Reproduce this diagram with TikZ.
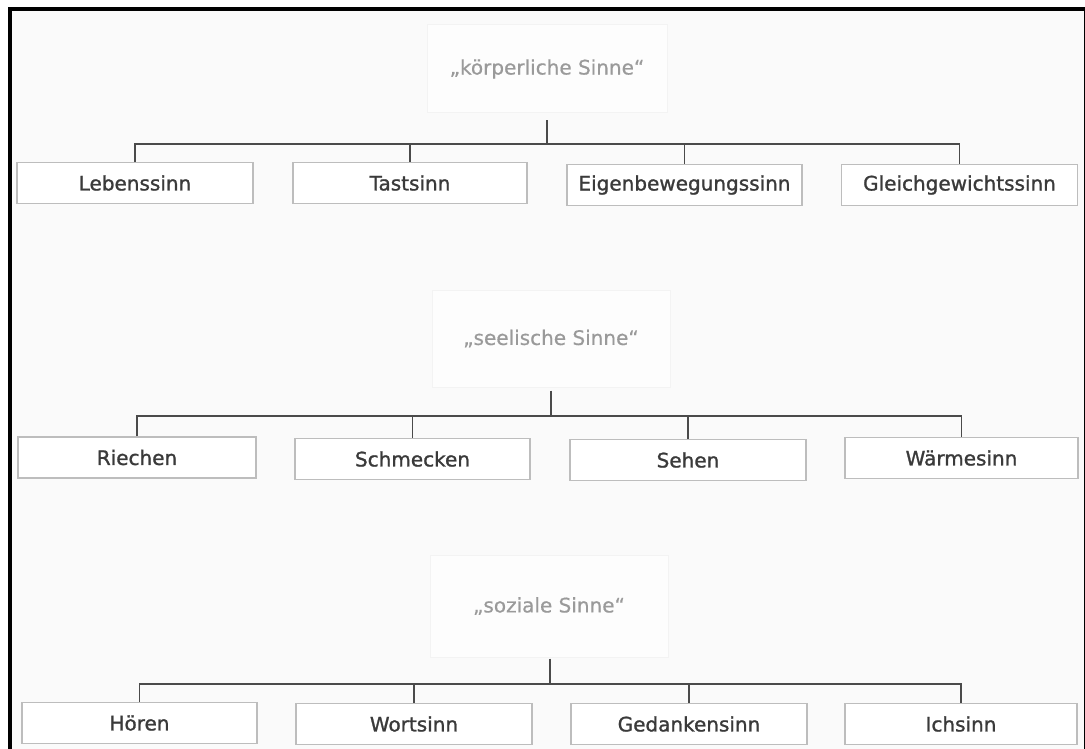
\documentclass[tikz,border=0pt]{standalone}
\usepackage{fontspec}
\setmainfont{DejaVu Sans}
\newfontfamily\boxfont[FakeBold=1.2]{DejaVu Sans}
\newfontfamily\titlefont[FakeBold=0.6]{DejaVu Sans}
\usetikzlibrary{calc}
\definecolor{bgc}{HTML}{FAFAFA}
\definecolor{boxline}{HTML}{BDBDBD}
\definecolor{boxtext}{HTML}{3A3A3A}
\definecolor{titletext}{HTML}{9A9A9A}
\definecolor{titleline}{HTML}{F3F3F3}
\definecolor{titlefill}{HTML}{FDFDFD}
\definecolor{conncol}{HTML}{4A4A4A}
\tikzset{
  sensebox/.style={draw=boxline, line width=1.5pt, fill=white, minimum height=41pt, inner sep=0pt,
    text=boxtext, font=\boxfont\fontsize{20}{23}\selectfont},
  titlebox/.style={draw=titleline, line width=1pt, fill=titlefill, inner sep=0pt,
    text=titletext, font=\titlefont\fontsize{20}{23}\selectfont},
  conn/.style={draw=conncol, line width=1.9pt},
}
\begin{document}
\begin{tikzpicture}[x=1pt,y=-1pt]
\useasboundingbox (0,0) rectangle (1085,749);
\fill[white] (0,0) rectangle (1085,749);
\fill[bgc] (10,9) rectangle (1084,749);
\draw[black, line width=4pt] (10,749) -- (10,9) -- (1085,9);
\draw[black, line width=1pt] (1084,9) -- (1084,749);

% ---- row 1
\node[titlebox, minimum width=240pt, minimum height=88pt] (t1) at (547,69) {„körperliche Sinne“};
\node[sensebox, minimum width=236pt] (a1) at (135,183) {Lebenssinn};
\node[sensebox, minimum width=234pt] (a2) at (410,183) {Tastsinn};
\node[sensebox, minimum width=235pt] (a3) at (684.5,185) {Eigenbewegungssinn};
\node[sensebox, minimum width=236pt] (a4) at (959.5,185) {Gleichgewichtssinn};
\coordinate (h1) at (547,144);
\draw[conn] ($(h1 |- t1.south)+(0,7)$) -- (h1);
\draw[conn] (a1.north) |- (h1) -| (a4.north);
\draw[conn] (a2.north) -- (a2.north |- h1);
\draw[conn] (a3.north) -- (a3.north |- h1);

% ---- row 2
\node[titlebox, minimum width=238pt, minimum height=97pt] (t2) at (551,338.5) {„seelische Sinne“};
\node[sensebox, minimum width=238pt] (b1) at (137,457.5) {Riechen};
\node[sensebox, minimum width=235pt] (b2) at (412.5,459) {Schmecken};
\node[sensebox, minimum width=236pt] (b3) at (688,460) {Sehen};
\node[sensebox, minimum width=233pt] (b4) at (961.5,458) {Wärmesinn};
\coordinate (h2) at (551,416);
\draw[conn] ($(h2 |- t2.south)+(0,3)$) -- (h2);
\draw[conn] (b1.north) |- (h2) -| (b4.north);
\draw[conn] (b2.north) -- (b2.north |- h2);
\draw[conn] (b3.north) -- (b3.north |- h2);

% ---- row 3
\node[titlebox, minimum width=238pt, minimum height=102pt] (t3) at (549,606) {„soziale Sinne“};
\node[sensebox, minimum width=235pt] (c1) at (139.5,723) {Hören};
\node[sensebox, minimum width=236pt] (c2) at (414,724) {Wortsinn};
\node[sensebox, minimum width=236pt] (c3) at (689,724) {Gedankensinn};
\node[sensebox, minimum width=232pt] (c4) at (961,724) {Ichsinn};
\coordinate (h3) at (550,684);
\draw[conn] ($(h3 |- t3.south)+(0,1)$) -- (h3);
\draw[conn] (c1.north) |- (h3) -| (c4.north);
\draw[conn] (c2.north) -- (c2.north |- h3);
\draw[conn] (c3.north) -- (c3.north |- h3);
\end{tikzpicture}
\end{document}
